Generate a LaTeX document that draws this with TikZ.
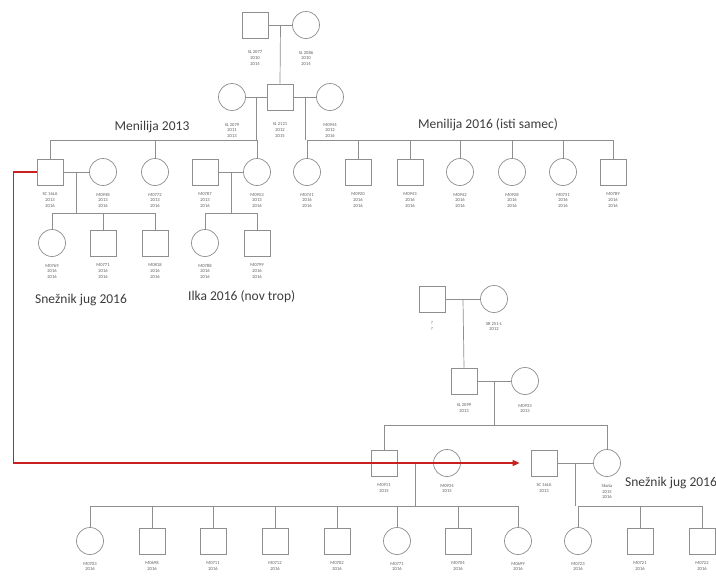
\documentclass[tikz,border=0pt]{standalone}
\usepackage{fontspec}
\setmainfont{Carlito}
\usetikzlibrary{arrows.meta, calc, positioning}
\definecolor{linegray}{HTML}{8E8E8E}
\definecolor{taggray}{HTML}{5E5E5E}
\definecolor{notegray}{HTML}{3C3C3C}
\definecolor{arrowred}{HTML}{C8201E}

\begin{document}
\begin{tikzpicture}[x=1pt, y=-1pt,
    male/.style={draw=linegray, line width=0.7pt, minimum size=26pt, inner sep=0pt},
    female/.style={male, circle, minimum size=27pt},
    tag/.style={font=\fontsize{4.6}{5.8}\selectfont, text=taggray, align=center, inner sep=0pt},
    every label/.style={tag},
    label distance=7pt,
    rel/.style={draw=linegray, line width=0.7pt},
    note/.style={font=\fontsize{13.5}{15}\selectfont, text=notegray, anchor=west, inner sep=0pt},
    link/.style={draw=arrowred, line width=1.3pt, -{Triangle[length=7pt, width=6pt]}}
]
\useasboundingbox (0,0) rectangle (716,579);

% oldest couple
\node[male, label={[label distance=12pt]below:{SL 2077\\2010\\2014}}] (g1m) at (255,25) {};
\node[female, label={[label distance=12pt]below:{SL 2086\\2010\\2014}}] (g1f) at (306,25) {};
\draw[rel] (g1m) -- (g1f);
\coordinate (c1) at ($(g1m)!0.5!(g1f)$);

% their son with two females
\node[female, label={[label distance=12pt]below:{SL 2079\\2011\\2013}}] (g2f1) at (232,97) {};
\node[male, label={[label distance=12pt]below:{SL 2121\\2012\\2015}}] (g2m) at (280,97) {};
\node[female, label={[label distance=12pt]below:{M0944\\2012\\2016}}] (g2f2) at (330,97) {};
\draw[rel] (c1) -- (g2m.north);
\draw[rel] (g2f1) -- (g2m);
\draw[rel] (g2m) -- (g2f2);
\coordinate (c2) at ($(g2f1)!0.5!(g2m)$);
\coordinate (c3) at ($(g2m)!0.5!(g2f2)$);
\coordinate (sibA) at (0,140);

% Menilija 2013
\node[male, label={below:{SC 16LA\\2013\\2016}}] (s1) at (50,172) {};
\node[female, label={below:{M0948\\2013\\2016}}] (s1w) at (103,172) {};
\node[female, label={below:{M0772\\2013\\2016}}] (s2) at (155,172) {};
\node[male, label={below:{M0787\\2013\\2016}}] (s3h) at (205,172) {};
\node[female, label={below:{M0953\\2013\\2016}}] (s3) at (257,172) {};
\draw[rel] (c2) -- (c2 |- sibA);
\draw[rel] (s1.north) -- (s1.north |- sibA) -- (s3.north |- sibA) -- (s3.north);
\draw[rel] (s2.north) -- (s2.north |- sibA);
\draw[rel] (s1) -- (s1w);
\draw[rel] (s3h) -- (s3);
\coordinate (c4) at ($(s1)!0.5!(s1w)$);
\coordinate (c5) at ($(s3h)!0.5!(s3)$);
\coordinate (sibK) at (0,213);

% their young
\node[female, label={below:{M0769\\2016\\2016}}] (k1) at (52,243) {};
\node[male, label={below:{M0771\\2016\\2016}}] (k2) at (103,243) {};
\node[male, label={below:{M0818\\2016\\2016}}] (k3) at (155,243) {};
\node[female, label={below:{M0788\\2016\\2016}}] (k4) at (205,243) {};
\node[male, label={below:{M0799\\2016\\2016}}] (k5) at (257,243) {};
\draw[rel] (c4) -- (c4 |- sibK);
\draw[rel] (k1.north) -- (k1.north |- sibK) -- (k3.north |- sibK) -- (k3.north);
\draw[rel] (k2.north) -- (k2.north |- sibK);
\draw[rel] (c5) -- (c5 |- sibK);
\draw[rel] (k4.north) -- (k4.north |- sibK) -- (k5.north |- sibK) -- (k5.north);

% Menilija 2016 (isti samec)
\foreach \x/\kind/\txt [count=\i] in {307/female/M0741, 358/male/M0920, 410/male/M0943,
    460/female/M0942, 512/female/M0928, 563/female/M0731, 613/male/M0789}
    \node[\kind, label={below:{\txt\\2016\\2016}}] (r\i) at (\x,172) {};
\draw[rel] (c3) -- (c3 |- sibA);
\draw[rel] (r1.north) -- (r1.north |- sibA) -- (r7.north |- sibA) -- (r7.north);
\foreach \i in {2,...,6}
    \draw[rel] (r\i.north) -- (r\i.north |- sibA);

% second pedigree
\node[male, label={[label distance=9pt]below:{?\\?}}] (p1m) at (432,299) {};
\node[female, label={[label distance=9pt]below:{SR 251-L\\2012}}] (p1f) at (494,299) {};
\draw[rel] (p1m) -- (p1f);
\coordinate (c6) at ($(p1m)!0.5!(p1f)$);
\node[male, label={[label distance=9pt]below:{SL 2099\\2013}}] (p2m) at (464,381) {};
\node[female, label={[label distance=9pt]below:{M0933\\2013}}] (p2f) at (525,381) {};
\draw[rel] (c6) -- (p2m.north);
\draw[rel] (p2m) -- (p2f);
\coordinate (c7) at ($(p2m)!0.5!(p2f)$);
\coordinate (sibQ) at (0,425);

\node[male, label={below:{M0911\\2015}}] (q1) at (384,463) {};
\node[female, label={below:{M0934\\2015}}] (q1w) at (447,463) {};
\node[male, label={below:{SC 16LA\\2013}}] (q2h) at (544,463) {};
\node[female, label={below:{Skuša\\2015\\2016}}] (q2) at (607,463) {};
\draw[rel] (c7) -- (c7 |- sibQ);
\draw[rel] (q1.north) -- (q1.north |- sibQ) -- (q2.north |- sibQ) -- (q2.north);
\draw[rel] (q1) -- (q1w);
\draw[rel] (q2h) -- (q2);
\coordinate (c8) at ($(q1)!0.5!(q1w)$);
\coordinate (c9) at ($(q2h)!0.5!(q2)$);
\coordinate (sibB) at (0,506);

% youngest row
\foreach \x/\kind/\txt [count=\i] in {90/female/M0703, 152/male/M0698, 213/male/M0711,
    275/male/M0712, 337/male/M0702, 397/female/M0771, 458/male/M0704, 518/female/M0699}
    \node[\kind, label={below:{\txt\\2016}}] (b\i) at (\x,541) {};
\draw[rel] (c8) -- (c8 |- sibB);
\draw[rel] (b1.north) -- (b1.north |- sibB) -- (b8.north |- sibB) -- (b8.north);
\foreach \i in {2,...,7}
    \draw[rel] (b\i.north) -- (b\i.north |- sibB);

\foreach \x/\kind/\txt [count=\i] in {578/female/M0723, 640/male/M0721, 702/male/M0722}
    \node[\kind, label={below:{\txt\\2016}}] (d\i) at (\x,541) {};
\draw[rel] (c9) -- (c9 |- sibB);
\draw[rel] (d1.north) -- (d1.north |- sibB) -- (d3.north |- sibB) -- (d3.north);
\draw[rel] (d2.north) -- (d2.north |- sibB);

% notes
\node[note, anchor=center] (n1) at (152,127) {Menilija 2013};
\node[note, anchor=center] (n2) at (488,125) {Menilija 2016 (isti samec)};
\node[note] (n3) at (35,300) {Snežnik jug 2016};
\node[note] (n4) at (188,297) {Ilka 2016 (nov trop)};
\node[note] (n5) at (625,483) {Snežnik jug 2016};

% moved male
\draw[link, shorten >=11pt] (s1.west) -- ++(-23,0) |- (q2h.west);
\end{tikzpicture}
\end{document}
